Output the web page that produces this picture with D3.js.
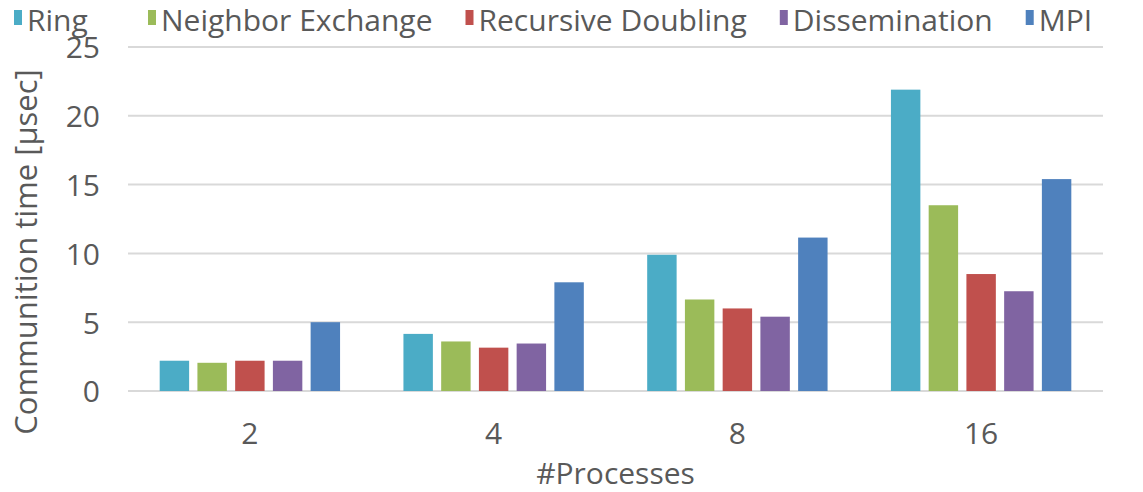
<!DOCTYPE html>
<html>
<head>
<meta charset="utf-8">
<script src="https://cdn.jsdelivr.net/npm/d3@7"></script>
<style>
  body { margin: 0; background: #fff; }
  text { font-family: "Open Sans", sans-serif; fill: #595959; }
</style>
</head>
<body>
<div id="chart"></div>
<script>
// data
var processes = ["2", "4", "8", "16"];
var seriesNames = ["Ring", "Neighbor Exchange", "Recursive Doubling", "Dissemination", "MPI"];
var seriesColors = ["#4bacc6", "#9bbb59", "#c0504d", "#8064a2", "#4f81bd"];
var ring      = [2.2, 4.15, 9.9, 21.9];
var neighbor  = [2.05, 3.6, 6.65, 13.5];
var recursive = [2.2, 3.15, 6.0, 8.5];
var dissem    = [2.2, 3.45, 5.4, 7.25];
var mpi       = [5.0, 7.9, 11.15, 15.4];
var yTicks = [0, 5, 10, 15, 20, 25];

var series = [ring, neighbor, recursive, dissem, mpi];

var W = 1143, H = 492;
var margin = {top: 47, right: 40, bottom: 101, left: 128},
    width = W - margin.left - margin.right,
    height = H - margin.top - margin.bottom;

var svg = d3.select("#chart").append("svg")
    .attr("width", W)
    .attr("height", H);

var g = svg.append("g")
    .attr("transform", "translate(" + margin.left + "," + margin.top + ")");

var x0 = d3.scaleBand().domain(processes).range([0, width]).padding(0);
var x1 = d3.scaleBand().domain(d3.range(seriesNames.length))
    .range([x0.bandwidth() * 0.13, x0.bandwidth() * 0.87])
    .paddingInner(0.22);
var y = d3.scaleLinear().domain([0, 25]).range([height, 0]);

// gridlines
g.append("g").selectAll("line")
  .data(yTicks)
  .enter().append("line")
    .attr("x1", 0).attr("x2", width)
    .attr("y1", function(d) { return y(d); })
    .attr("y2", function(d) { return y(d); })
    .attr("stroke", "#d9d9d9")
    .attr("stroke-width", 2);

// y tick labels
g.append("g").selectAll("text")
  .data(yTicks)
  .enter().append("text")
    .attr("x", -28)
    .attr("y", function(d) { return y(d); })
    .attr("dy", "0.38em")
    .attr("text-anchor", "end")
    .style("font-size", "30px")
    .text(function(d) { return d; });

// bars
var group = g.selectAll(".grp")
  .data(processes)
  .enter().append("g")
    .attr("class", "grp")
    .attr("transform", function(d) { return "translate(" + x0(d) + ",0)"; });

group.selectAll("rect")
  .data(function(d, i) { return series.map(function(s, k) { return {k: k, v: s[i]}; }); })
  .enter().append("rect")
    .attr("x", function(d) { return x1(d.k); })
    .attr("width", x1.bandwidth())
    .attr("y", function(d) { return y(d.v); })
    .attr("height", function(d) { return height - y(d.v); })
    .attr("fill", function(d) { return seriesColors[d.k]; });

// x tick labels
g.append("g").selectAll("text")
  .data(processes)
  .enter().append("text")
    .attr("x", function(d) { return x0(d) + x0.bandwidth() / 2; })
    .attr("y", height + 53)
    .attr("text-anchor", "middle")
    .style("font-size", "30px")
    .text(function(d) { return d; });

// axis titles
svg.append("text")
  .attr("x", margin.left + width / 2)
  .attr("y", 484)
  .attr("text-anchor", "middle")
  .style("font-size", "30px")
  .text("#Processes");

svg.append("text")
  .attr("transform", "translate(37,252) rotate(-90)")
  .attr("text-anchor", "middle")
  .style("font-size", "31px")
  .text("Communition time [µsec]");

// legend
var legend = svg.append("g").attr("transform", "translate(14,0)");
var lx = 0;
seriesNames.forEach(function(name, i) {
  var item = legend.append("g").attr("transform", "translate(" + lx + ",0)");
  item.append("rect")
    .attr("x", 0).attr("y", 10)
    .attr("width", 8).attr("height", 15)
    .attr("fill", seriesColors[i]);
  var t = item.append("text")
    .attr("x", 13).attr("y", 31)
    .style("font-size", "30px")
    .text(name);
  lx += Math.max(13 + t.node().getComputedTextLength() + 33, 134);
});
</script>
</body>
</html>
